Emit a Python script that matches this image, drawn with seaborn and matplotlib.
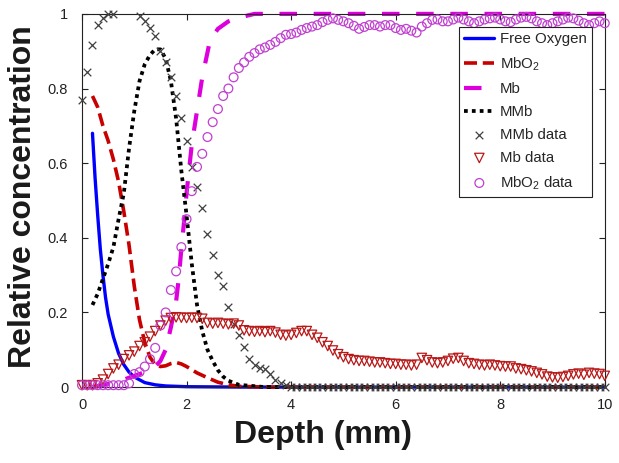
import numpy as np
import pandas as pd
import matplotlib
matplotlib.use("Agg")
import matplotlib.pyplot as plt
import seaborn as sns

# --- model curves ---
oxy_x = [0.2, 0.25, 0.3, 0.35, 0.4, 0.45, 0.5, 0.6, 0.7, 0.8, 0.9, 1.0, 1.2, 1.4, 1.6, 2.0, 3.0, 10.0]
oxy_y = [0.68, 0.56, 0.46, 0.37, 0.30, 0.24, 0.195, 0.135, 0.09, 0.06, 0.04, 0.027, 0.012, 0.006, 0.003, 0.001, 0.0, 0.0]

mbo2_x = [0.2, 0.3, 0.4, 0.5, 0.6, 0.7, 0.8, 0.9, 1.0, 1.1, 1.2, 1.3, 1.4, 1.5, 1.6, 1.7, 1.8, 1.9,
          2.0, 2.2, 2.4, 2.6, 2.8, 3.0, 3.5, 10.0]
mbo2_y = [0.78, 0.75, 0.70, 0.66, 0.61, 0.55, 0.47, 0.38, 0.27, 0.18, 0.12, 0.08, 0.06, 0.055, 0.057,
          0.063, 0.066, 0.062, 0.055, 0.038, 0.025, 0.013, 0.006, 0.002, 0.0, 0.0]

mb_x = [0.2, 0.4, 0.6, 0.8, 1.0, 1.2, 1.4, 1.5, 1.6, 1.7, 1.8, 1.85, 1.9, 1.95, 2.0, 2.1, 2.2, 2.3,
        2.45, 2.6, 2.8, 3.0, 3.3, 10.0]
mb_y = [0.0, 0.005, 0.012, 0.02, 0.03, 0.04, 0.055, 0.07, 0.1, 0.16, 0.23, 0.29, 0.37, 0.44, 0.52,
        0.65, 0.74, 0.83, 0.93, 0.96, 0.98, 0.99, 1.0, 1.0]

mmb_x = [0.2, 0.3, 0.4, 0.5, 0.6, 0.7, 0.8, 0.9, 1.0, 1.1, 1.2, 1.3, 1.4, 1.5, 1.6, 1.7, 1.8, 1.9,
         2.0, 2.1, 2.2, 2.3, 2.4, 2.5, 2.6, 2.7, 2.8, 3.0, 3.5, 10.0]
mmb_y = [0.22, 0.25, 0.29, 0.33, 0.375, 0.45, 0.52, 0.64, 0.74, 0.82, 0.865, 0.89, 0.905, 0.905, 0.88,
         0.82, 0.72, 0.58, 0.46, 0.33, 0.22, 0.15, 0.10, 0.07, 0.045, 0.028, 0.017, 0.006, 0.0, 0.0]

# --- measured data, every 0.1 mm from 0 to 10 ---
depth = [i / 10 for i in range(101)]

mmb_data = [0.77, 0.845, 0.917, 0.97, 0.99, 1.0, 1.0, 1.02, 1.03, 1.03,
            1.01, 0.995, 0.98, 0.962, 0.94, 0.90, 0.87, 0.83, 0.78, 0.72,
            0.66, 0.59, 0.535, 0.48, 0.41, 0.355, 0.30, 0.27, 0.215, 0.17,
            0.14, 0.108, 0.075, 0.058, 0.052, 0.048, 0.035, 0.02, 0.01, 0.005] + [0.0] * 61

mb_data = [0.005, 0.005, 0.005, 0.01, 0.02, 0.035, 0.05, 0.06, 0.075, 0.085,
           0.095, 0.11, 0.12, 0.135, 0.15, 0.165, 0.178, 0.185, 0.187, 0.186,
           0.185, 0.186, 0.185, 0.183, 0.172, 0.17, 0.172, 0.17, 0.168, 0.17,
           0.165, 0.152, 0.15, 0.148, 0.15, 0.147, 0.15, 0.146, 0.14, 0.138,
           0.14, 0.145, 0.15, 0.15, 0.14, 0.132, 0.12, 0.11, 0.098, 0.088,
           0.08, 0.075, 0.072, 0.07, 0.07, 0.068, 0.066, 0.066, 0.064, 0.062,
           0.062, 0.06, 0.06, 0.058, 0.06, 0.078, 0.072, 0.066, 0.064, 0.066,
           0.07, 0.076, 0.078, 0.07, 0.064, 0.062, 0.06, 0.058, 0.06, 0.058,
           0.056, 0.055, 0.055, 0.05, 0.048, 0.045, 0.042, 0.038, 0.034, 0.028,
           0.026, 0.025, 0.027, 0.03, 0.034, 0.036, 0.033, 0.038, 0.036, 0.035,
           0.03]

mbo2_data = [0.005, 0.005, 0.005, 0.005, 0.005, 0.005, 0.005, 0.005, 0.005, 0.01,
             0.035, 0.04, 0.055, 0.075, 0.105, 0.165, 0.2, 0.26, 0.31, 0.375,
             0.45, 0.525, 0.59, 0.625, 0.67, 0.71, 0.745, 0.78, 0.8, 0.83,
             0.855, 0.87, 0.885, 0.895, 0.905, 0.91, 0.917, 0.925, 0.935, 0.944,
             0.946, 0.95, 0.957, 0.962, 0.966, 0.97, 0.978, 0.984, 0.988, 0.984,
             0.98, 0.975, 0.968, 0.96, 0.965, 0.97, 0.97, 0.966, 0.97, 0.97,
             0.962, 0.957, 0.96, 0.955, 0.95, 0.966, 0.975, 0.984, 0.985, 0.98,
             0.98, 0.985, 0.99, 0.985, 0.98, 0.975, 0.98, 0.985, 0.988, 0.99,
             0.985, 0.98, 0.978, 0.985, 0.99, 0.992, 0.988, 0.98, 0.975, 0.97,
             0.975, 0.98, 0.985, 0.99, 0.988, 0.982, 0.975, 0.97, 0.975, 0.98,
             0.975]

sns.set_style("ticks")
plt.rcParams["font.family"] = ["Liberation Sans", "DejaVu Sans"]
plt.rcParams["mathtext.fontset"] = "custom"
plt.rcParams["mathtext.rm"] = "Liberation Sans"

fig = plt.figure(figsize=(6.19, 4.63), dpi=100)
ax = fig.add_axes([0.1325, 0.164, 0.8445, 0.806])

sns.lineplot(x=oxy_x, y=oxy_y, ax=ax, color="#0000FF", lw=2.4, label="Free Oxygen",
             estimator=None, sort=False, clip_on=False)
sns.lineplot(x=mbo2_x, y=mbo2_y, ax=ax, color="#C80000", lw=2.6, linestyle=(0, (3.6, 1.6)),
             label="MbO$_2$", estimator=None, sort=False, clip_on=False)
sns.lineplot(x=mb_x, y=mb_y, ax=ax, color="#DD00DD", lw=3.0, linestyle=(0, (4.2, 4.0)),
             label="Mb", estimator=None, sort=False, clip_on=False)
sns.lineplot(x=mmb_x, y=mmb_y, ax=ax, color="black", lw=2.7, linestyle=(0, (1, 1.1)),
             label="MMb", estimator=None, sort=False, clip_on=False)

# points above the axis top are not drawn (like the original)
data = pd.DataFrame({"depth": depth, "mmb": mmb_data, "mb": mb_data, "mbo2": mbo2_data})
d_mmb = data[data["mmb"] <= 1]
sns.scatterplot(x=d_mmb["depth"], y=d_mmb["mmb"], ax=ax, marker="x", color="#404040", s=30,
                linewidth=0.9, label="MMb data", clip_on=False, zorder=3)
sns.scatterplot(x=data["depth"], y=data["mb"], ax=ax, marker="v", color="#B81818",
                facecolor="none", edgecolor="#B81818", s=46, linewidth=0.9,
                label="Mb data", clip_on=False, zorder=3)
sns.scatterplot(x=data["depth"], y=data["mbo2"], ax=ax, marker="o", color="#C040D0",
                facecolor="none", edgecolor="#C040D0", s=40, linewidth=0.9,
                label="MbO$_2$ data", clip_on=False, zorder=3)

ax.set_xlim(0, 10)
ax.set_ylim(0, 1)
ax.set_xticks([0, 2, 4, 6, 8, 10])
ax.set_yticks([0, 0.2, 0.4, 0.6, 0.8, 1])
ax.set_yticklabels(["0", "0.2", "0.4", "0.6", "0.8", "1"])
ax.tick_params(direction="in", top=True, right=True, length=4, width=0.8,
               labelsize=10.5, colors="#222222")
ax.tick_params(axis="y", pad=10)
ax.tick_params(axis="x", pad=8)
for s in ax.spines.values():
    s.set_linewidth(0.8)
    s.set_color("#222222")

ax.set_xlabel("Depth (mm)", fontsize=23, fontweight="bold", color="#1a1a1a")
ax.set_ylabel("Relative concentration", fontsize=23, fontweight="bold", color="#1a1a1a")
ax.xaxis.set_label_coords(0.461, -0.088)
ax.yaxis.set_label_coords(-0.084, 0.51)

leg = ax.legend(loc="upper right", bbox_to_anchor=(0.975, 0.965), borderaxespad=0,
                fontsize=10.8, frameon=True, fancybox=False, framealpha=1,
                edgecolor="#222222", handlelength=2.0, handletextpad=0.35,
                labelspacing=0.6, borderpad=0.35)
leg.get_frame().set_linewidth(0.8)

fig.savefig("out.png", dpi=100)
